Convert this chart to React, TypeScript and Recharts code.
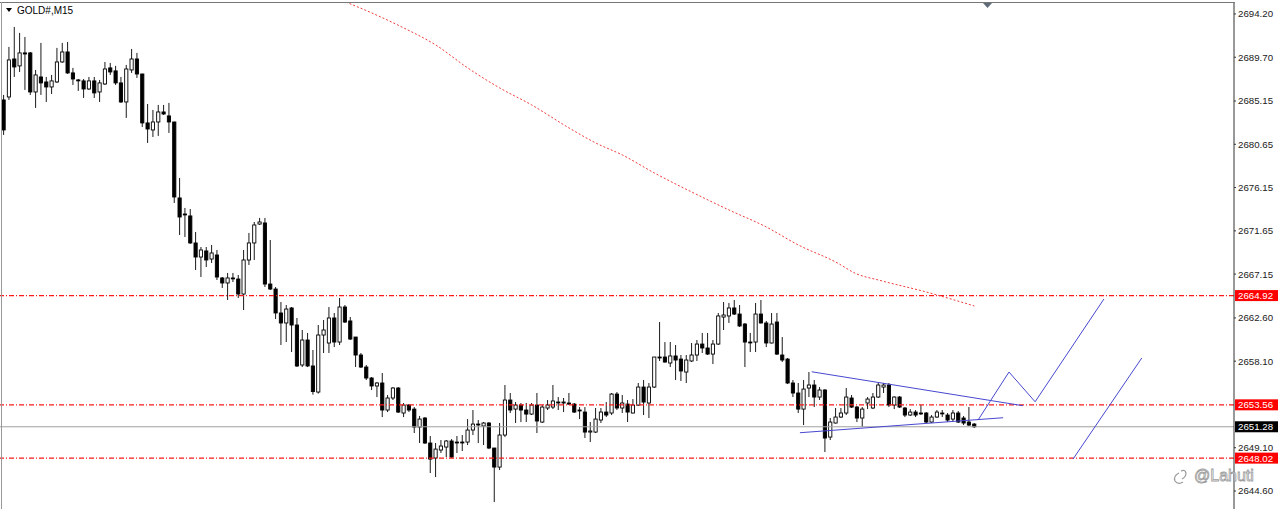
import { ComposedChart, Bar, Line, XAxis, YAxis, ReferenceLine } from 'recharts'

// ─── candles (GOLD#, M15) ─────────────────────────────────────────────────

const OPEN = [
  2685.26, 2685.57, 2689.52, 2688.80, 2690.15, 2690.15, 2686.09, 2687.65, 2687.13, 2686.61,
  2687.13, 2689.21, 2690.25, 2688.07, 2687.34, 2687.24, 2686.40, 2687.24, 2686.09, 2686.92,
  2688.59, 2688.28, 2687.03, 2685.05, 2688.38, 2689.52, 2687.96, 2682.87, 2682.14, 2682.97,
  2684.01, 2683.60, 2682.97, 2675.07, 2673.40, 2673.20, 2670.39, 2668.93, 2669.56, 2668.72,
  2669.14, 2666.75, 2666.23, 2666.75, 2666.64, 2665.08, 2668.62, 2670.39, 2672.36, 2672.47,
  2666.12, 2665.60, 2663.11, 2662.07, 2663.63, 2661.86, 2657.70, 2660.30, 2657.60, 2654.89,
  2660.82, 2659.99, 2662.59, 2660.09, 2663.73, 2662.28, 2660.61, 2658.74, 2657.49, 2656.35,
  2655.52, 2655.83, 2653.02, 2654.27, 2655.31, 2652.71, 2653.54, 2653.12, 2651.25, 2652.19,
  2649.59, 2648.03, 2648.86, 2649.17, 2649.80, 2649.69, 2649.64, 2649.69, 2650.94, 2651.56,
  2651.36, 2651.67, 2649.07, 2647.09, 2650.42, 2654.06, 2653.12, 2653.54, 2653.02, 2652.60,
  2653.54, 2651.77, 2653.23, 2653.33, 2653.85, 2653.75, 2653.75, 2653.64, 2653.02, 2652.81,
  2650.73, 2650.73, 2651.98, 2652.81, 2652.71, 2654.68, 2653.23, 2653.64, 2652.71, 2653.54,
  2655.41, 2653.75, 2655.41, 2658.53, 2658.53, 2657.91, 2658.64, 2658.32, 2656.97, 2658.12,
  2658.74, 2659.88, 2659.47, 2658.84, 2659.88, 2662.69, 2662.80, 2663.63, 2663.00, 2661.96,
  2660.09, 2660.09, 2663.00, 2662.07, 2659.99, 2662.17, 2658.74, 2658.32, 2655.83, 2654.79,
  2653.12, 2655.31, 2655.62, 2654.37, 2655.10, 2650.21, 2651.67, 2652.29, 2652.71, 2654.27,
  2653.33, 2652.19, 2653.75, 2653.23, 2654.37, 2655.41, 2655.62, 2653.54, 2654.37, 2653.23,
  2652.50, 2652.81, 2652.71, 2652.71, 2651.77, 2652.29, 2652.71, 2652.50, 2652.08, 2652.71,
  2652.19, 2651.77, 2651.56,
]

const HIGH = [
  2685.78, 2690.77, 2692.85, 2692.23, 2691.81, 2690.25, 2688.38, 2691.19, 2687.65, 2687.86,
  2690.67, 2691.19, 2691.29, 2688.59, 2687.44, 2687.44, 2687.65, 2687.65, 2687.34, 2689.21,
  2689.11, 2688.80, 2687.65, 2688.90, 2690.56, 2690.15, 2687.96, 2684.84, 2684.22, 2684.74,
  2684.74, 2684.95, 2682.97, 2677.15, 2674.03, 2673.92, 2671.53, 2669.97, 2669.97, 2670.18,
  2669.66, 2666.85, 2667.27, 2667.27, 2667.06, 2669.66, 2671.43, 2672.57, 2672.99, 2672.99,
  2670.70, 2665.81, 2664.25, 2663.94, 2663.73, 2662.59, 2661.34, 2661.03, 2659.26, 2661.86,
  2662.38, 2663.73, 2663.11, 2664.67, 2663.94, 2662.69, 2660.61, 2658.95, 2657.70, 2656.45,
  2655.93, 2656.87, 2654.58, 2655.41, 2655.41, 2653.75, 2653.64, 2653.33, 2652.40, 2652.29,
  2650.32, 2649.59, 2649.90, 2649.90, 2650.00, 2650.32, 2650.42, 2652.08, 2653.02, 2651.98,
  2651.77, 2651.77, 2649.07, 2651.67, 2655.62, 2654.79, 2653.85, 2653.75, 2653.75, 2653.75,
  2654.79, 2653.54, 2654.06, 2655.62, 2654.37, 2654.27, 2654.79, 2653.75, 2653.33, 2653.33,
  2651.77, 2653.23, 2653.23, 2653.85, 2654.79, 2654.89, 2654.58, 2654.06, 2654.16, 2655.83,
  2656.14, 2655.83, 2658.53, 2662.17, 2660.09, 2660.09, 2659.78, 2658.74, 2658.74, 2659.99,
  2660.30, 2661.03, 2661.03, 2660.30, 2663.11, 2664.25, 2664.15, 2664.46, 2663.94, 2662.07,
  2661.03, 2664.15, 2664.46, 2662.28, 2663.11, 2663.11, 2660.61, 2658.43, 2656.14, 2655.83,
  2656.14, 2656.97, 2656.14, 2655.41, 2655.20, 2652.19, 2653.23, 2653.23, 2655.31, 2654.58,
  2653.44, 2653.33, 2654.37, 2654.79, 2655.83, 2655.83, 2655.83, 2654.45, 2654.48, 2653.33,
  2653.12, 2653.02, 2653.54, 2652.81, 2652.50, 2653.02, 2653.02, 2652.71, 2653.02, 2652.92,
  2652.40, 2653.33, 2651.67,
]

const LOW = [
  2681.62, 2685.26, 2687.65, 2688.17, 2686.30, 2685.78, 2684.43, 2685.78, 2685.05, 2685.88,
  2687.03, 2689.11, 2687.96, 2686.82, 2686.20, 2685.47, 2686.30, 2685.47, 2685.05, 2686.82,
  2687.86, 2686.82, 2684.95, 2683.39, 2688.07, 2687.55, 2682.45, 2680.79, 2681.41, 2681.52,
  2683.70, 2681.83, 2674.55, 2671.22, 2671.01, 2670.30, 2667.58, 2666.85, 2667.89, 2668.31,
  2666.54, 2665.71, 2664.46, 2666.33, 2664.67, 2663.42, 2668.10, 2668.62, 2672.26, 2665.81,
  2665.50, 2662.48, 2659.78, 2660.09, 2659.05, 2657.49, 2657.49, 2657.49, 2654.62, 2654.73,
  2658.95, 2658.95, 2659.57, 2659.78, 2662.07, 2660.30, 2657.49, 2657.39, 2656.14, 2655.10,
  2654.37, 2652.29, 2652.81, 2654.06, 2652.71, 2652.29, 2652.81, 2650.63, 2649.59, 2649.50,
  2646.47, 2646.05, 2648.55, 2648.13, 2648.05, 2648.55, 2648.76, 2649.38, 2650.42, 2649.59,
  2649.38, 2648.96, 2643.45, 2646.78, 2650.21, 2652.71, 2651.67, 2651.77, 2651.77, 2652.50,
  2650.63, 2651.67, 2653.02, 2653.12, 2653.02, 2652.81, 2653.54, 2652.71, 2652.08, 2650.11,
  2649.69, 2650.63, 2651.67, 2652.29, 2652.50, 2653.02, 2652.71, 2651.77, 2652.66, 2653.44,
  2652.50, 2652.19, 2655.31, 2658.12, 2657.95, 2657.49, 2656.14, 2656.04, 2655.83, 2658.01,
  2658.12, 2658.95, 2658.74, 2657.80, 2659.78, 2661.34, 2662.07, 2662.90, 2661.65, 2657.49,
  2659.05, 2659.05, 2662.02, 2659.57, 2659.94, 2658.74, 2658.01, 2655.72, 2654.37, 2652.71,
  2651.46, 2654.37, 2653.33, 2654.06, 2648.65, 2649.90, 2651.62, 2652.19, 2652.50, 2653.23,
  2651.77, 2651.25, 2653.12, 2653.12, 2654.27, 2654.79, 2653.33, 2653.12, 2653.23, 2652.29,
  2652.40, 2652.29, 2652.50, 2651.67, 2651.67, 2652.19, 2652.29, 2651.77, 2651.77, 2651.67,
  2651.46, 2651.36, 2651.15,
]

const CLOSE = [
  2682.14, 2689.42, 2688.69, 2690.15, 2690.04, 2686.09, 2687.86, 2687.03, 2686.61, 2687.24,
  2689.21, 2690.25, 2688.07, 2687.44, 2687.30, 2686.40, 2687.24, 2685.99, 2687.03, 2688.48,
  2688.17, 2687.03, 2685.05, 2688.48, 2689.52, 2687.96, 2682.87, 2682.24, 2682.97, 2684.01,
  2683.80, 2682.97, 2675.17, 2673.09, 2673.35, 2670.39, 2668.93, 2669.66, 2668.62, 2669.35,
  2666.85, 2666.23, 2666.75, 2666.70, 2665.08, 2668.62, 2670.39, 2672.26, 2672.57, 2666.12,
  2665.60, 2663.11, 2662.07, 2663.52, 2661.86, 2657.60, 2660.30, 2657.60, 2654.94, 2660.82,
  2661.34, 2662.59, 2660.09, 2663.73, 2662.17, 2660.40, 2658.74, 2657.49, 2656.35, 2655.52,
  2655.83, 2653.02, 2654.27, 2655.31, 2652.81, 2653.54, 2653.02, 2651.25, 2652.08, 2649.59,
  2647.92, 2648.96, 2649.28, 2649.80, 2648.13, 2649.64, 2649.69, 2650.94, 2651.56, 2651.51,
  2651.67, 2649.07, 2647.09, 2650.42, 2654.06, 2653.02, 2653.54, 2653.02, 2652.60, 2653.54,
  2651.88, 2653.33, 2653.54, 2653.96, 2653.80, 2653.85, 2653.64, 2652.81, 2652.97, 2650.73,
  2650.84, 2652.08, 2652.81, 2652.50, 2654.68, 2653.23, 2653.75, 2652.81, 2653.54, 2655.41,
  2653.85, 2655.41, 2658.53, 2658.48, 2658.01, 2658.64, 2658.22, 2657.08, 2658.22, 2658.74,
  2659.88, 2659.47, 2658.84, 2659.88, 2662.80, 2662.90, 2663.63, 2663.00, 2661.76, 2660.09,
  2660.04, 2663.00, 2662.07, 2659.99, 2661.96, 2658.84, 2658.22, 2655.83, 2654.79, 2653.12,
  2655.20, 2655.62, 2654.37, 2655.10, 2650.11, 2651.77, 2652.29, 2652.71, 2654.37, 2653.33,
  2652.19, 2653.12, 2654.16, 2654.37, 2655.62, 2655.62, 2653.54, 2654.37, 2653.33, 2652.50,
  2652.81, 2652.50, 2652.66, 2651.77, 2652.29, 2652.81, 2652.66, 2651.98, 2652.71, 2651.77,
  2651.67, 2651.46, 2651.28,
]

// ─── moving average (red dotted), sampled at bar indices ──────────────────

const MA_IDX = [60, 64, 69, 75, 81, 87, 93, 99, 106, 111, 116, 122, 129, 136, 143, 149, 156, 160, 164, 173, 182]
const MA_VAL = [
  2696.40, 2695.48, 2694.31, 2692.75, 2690.98, 2688.59, 2686.51, 2684.74, 2682.35, 2680.79, 2679.54,
  2677.67, 2675.69, 2673.82, 2672.05, 2670.18, 2668.41, 2667.16, 2666.54, 2665.29, 2663.84,
]

// ─── hand-drawn blue objects (bar index, price) ───────────────────────────

const TRI_UPPER_IDX = [151.5, 191.1]
const TRI_UPPER_VAL = [2657.00, 2653.47]
const TRI_LOWER_IDX = [149.3, 187.4]
const TRI_LOWER_VAL = [2650.66, 2652.22]
const ZIGZAG_IDX = [182.7, 188.5, 193.4, 206.3]
const ZIGZAG_VAL = [2651.98, 2656.97, 2653.88, 2664.56]
const ALT_IDX = [200.5, 213.4]
const ALT_VAL = [2647.92, 2658.43]

// ─── levels + axis ────────────────────────────────────────────────────────

const RED_LEVELS = [2664.92, 2653.56, 2648.02]
const BID = 2651.28
const Y_TICKS = [2694.20, 2689.70, 2685.15, 2680.65, 2676.15, 2671.65, 2667.15, 2662.60, 2658.10, 2649.10, 2644.60]
const Y_DOMAIN: [number, number] = [2642.73, 2695.34]
const X_DOMAIN: [number, number] = [-0.69, 230.69]

const FONT = '"Liberation Sans", Arial, sans-serif'
const BLUE = '#4848d0'
const RED = '#ff1a1a'

const candles = OPEN.map((o, i) => ({
  i,
  open: o,
  high: HIGH[i],
  low: LOW[i],
  close: CLOSE[i],
  range: [LOW[i], HIGH[i]],
}))

const seg = (idx: number[], val: number[]) => idx.map((i, k) => ({ i, v: val[k] }))

// ─── shapes ───────────────────────────────────────────────────────────────

function Candle(props: any) {
  const { x, y, width, height, payload } = props
  if (!payload || x == null || y == null) return null
  const { open, close, high, low } = payload
  const top = Math.min(y, y + height)
  const h = Math.abs(height)
  const k = high > low ? h / (high - low) : 0
  const py = (v: number) => top + (high - v) * k
  const cx = x + width / 2
  const up = close >= open
  const bTop = py(Math.max(open, close))
  const bh = Math.max(py(Math.min(open, close)) - bTop, 0.9)
  return (
    <g>
      <line x1={cx} x2={cx} y1={top} y2={top + h} stroke="#1a1a1a" strokeWidth={1} />
      <rect x={cx - 1.6} y={bTop} width={3.2} height={bh} fill={up ? '#fff' : '#000'} stroke="#000" strokeWidth={0.9} />
    </g>
  )
}

function PriceTag({ viewBox, price, bg }: any) {
  if (!viewBox) return null
  const x = viewBox.x + viewBox.width + 1
  const y = viewBox.y
  return (
    <g>
      <rect x={x} y={y - 5.5} width={43} height={11} fill={bg} />
      <text x={x + 3} y={y + 3.5} fill="#fff" fontSize={9.7} fontFamily={FONT}>{price.toFixed(2)}</text>
    </g>
  )
}

// ─── component ────────────────────────────────────────────────────────────

export default function App() {
  return (
    <div style={{ position: 'absolute', left: 0, top: 0, width: 1280, height: 509, background: '#fff', overflow: 'hidden', fontFamily: FONT }}>
      <ComposedChart width={1280} height={509} data={candles} margin={{ top: 3, right: 0, bottom: 0, left: 0 }}>
        <XAxis type="number" dataKey="i" domain={X_DOMAIN} allowDataOverflow hide />
        <YAxis
          orientation="right"
          domain={Y_DOMAIN}
          allowDataOverflow
          ticks={Y_TICKS}
          interval={0}
          width={46}
          tickSize={2}
          tickMargin={2}
          axisLine={{ stroke: '#333' }}
          tickLine={{ stroke: '#333' }}
          tick={{ fontSize: 9.7, fill: '#222', fontFamily: FONT }}
          tickFormatter={(v: number) => v.toFixed(2)}
        />

        <ReferenceLine y={BID} stroke="#a0a0a0" strokeWidth={1}
          label={<PriceTag price={BID} bg="#000" />} />
        {RED_LEVELS.map(p => (
          <ReferenceLine
            key={p}
            y={p}
            stroke={RED}
            strokeWidth={1.4}
            strokeDasharray="5 2 1 2"
            label={<PriceTag price={p} bg="#ff0000" />}
          />
        ))}

        <Bar dataKey="range" barSize={4} shape={<Candle />} isAnimationActive={false} />

        <Line data={seg(MA_IDX, MA_VAL)} dataKey="v" type="monotone" stroke="#f03a3a" strokeWidth={1}
          strokeDasharray="2 2" dot={false} activeDot={false} isAnimationActive={false} />
        <Line data={seg(TRI_UPPER_IDX, TRI_UPPER_VAL)} dataKey="v" type="linear" stroke={BLUE} strokeWidth={1}
          dot={false} activeDot={false} isAnimationActive={false} />
        <Line data={seg(TRI_LOWER_IDX, TRI_LOWER_VAL)} dataKey="v" type="linear" stroke={BLUE} strokeWidth={1}
          dot={false} activeDot={false} isAnimationActive={false} />
        <Line data={seg(ZIGZAG_IDX, ZIGZAG_VAL)} dataKey="v" type="linear" stroke={BLUE} strokeWidth={1}
          dot={false} activeDot={false} isAnimationActive={false} />
        <Line data={seg(ALT_IDX, ALT_VAL)} dataKey="v" type="linear" stroke={BLUE} strokeWidth={1}
          dot={false} activeDot={false} isAnimationActive={false} />
      </ComposedChart>

      {/* window chrome, title and watermark */}
      <svg width={1280} height={509} style={{ position: 'absolute', left: 0, top: 0, pointerEvents: 'none' }}>
        <line x1={0} x2={1235} y1={2.5} y2={2.5} stroke="#777" strokeWidth={1} />
        <line x1={1.5} x2={1.5} y1={2} y2={509} stroke="#999" strokeWidth={1} />
        <path d="M983 3 L992 3 L987.5 8 Z" fill="#5f6b78" />
        <path d="M6 8 L12 8 L9 12 Z" fill="#000" />
        <text x={17} y={14} fontSize={10} fill="#000" fontFamily={FONT}>GOLD#,M15</text>
        <path d="M1179 473 q-6 3 -4 8 q3 4 8 1 M1181 471 q4 -2 5 2 q0 4 -4 6" fill="none" stroke="#9a9a9a" strokeWidth={1.2} />
        <text x={1194} y={481} fontSize={16} fill="#fff" stroke="#9c9c9c" strokeWidth={0.8} fontFamily={FONT}>@Lahuti</text>
      </svg>
    </div>
  )
}
